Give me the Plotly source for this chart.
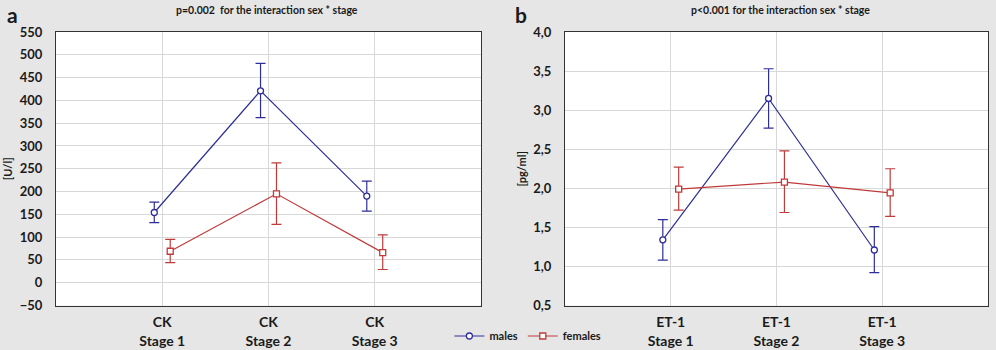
import plotly.graph_objects as go

stages = [1, 2, 3]
ck_ticktext = ["CK<br>Stage 1", "CK<br>Stage 2", "CK<br>Stage 3"]
et_ticktext = ["ET-1<br>Stage 1", "ET-1<br>Stage 2", "ET-1<br>Stage 3"]

ck_males = [154, 421, 190]
ck_males_hi = [177, 481, 223]
ck_males_lo = [132, 362, 157]
ck_females = [69, 195, 66]
ck_females_hi = [95, 263, 105]
ck_females_lo = [44, 128, 29]

et_males = [1.34, 3.15, 1.21]
et_males_hi = [1.60, 3.53, 1.51]
et_males_lo = [1.08, 2.77, 0.92]
et_females = [1.99, 2.08, 1.94]
et_females_hi = [2.27, 2.48, 2.25]
et_females_lo = [1.72, 1.69, 1.64]

BLUE = "#2e2e9a"
RED = "#c03a3a"
OFF = 0.075

def err(v, hi, lo, color):
    return dict(type="data", symmetric=False,
                array=[h - x for h, x in zip(hi, v)],
                arrayminus=[x - l for x, l in zip(v, lo)],
                color=color, thickness=1.2, width=5)

fig = go.Figure()

def add(xa, ya, vals, hi, lo, color, symbol, name, show):
    fig.add_trace(go.Scatter(
        x=[s + (-OFF if name == "males" else OFF) for s in stages], y=vals,
        mode="lines+markers", name=name, showlegend=show,
        xaxis=xa, yaxis=ya,
        line=dict(color=color, width=1.2),
        marker=dict(symbol=symbol, size=6, color="white", line=dict(color=color, width=1.3)),
        error_y=err(vals, hi, lo, color)))

add("x", "y", ck_males, ck_males_hi, ck_males_lo, BLUE, "circle", "males", True)
add("x", "y", ck_females, ck_females_hi, ck_females_lo, RED, "square", "females", True)
add("x2", "y2", et_males, et_males_hi, et_males_lo, BLUE, "circle", "males", False)
add("x2", "y2", et_females, et_females_hi, et_females_lo, RED, "square", "females", False)

FONT = "Lato"
tickfont = dict(family=FONT, size=13, color="#1a1a1a", weight="bold")
ydom = [1 - 305.5 / 350, 1 - 32 / 350]

common_x = dict(range=[0, 4], tickvals=stages, showgrid=True, gridcolor="#d8d8d8",
                showline=True, linecolor="#333333", linewidth=1.2, mirror=True,
                zeroline=False, tickfont=dict(tickfont, size=14), ticks="", ticklabelstandoff=4,
                automargin=False)
common_y = dict(showgrid=True, gridcolor="#d8d8d8", showline=True, linecolor="#333333",
                linewidth=1.2, mirror=True, zeroline=False, tickfont=tickfont, ticks="",
                ticklabelstandoff=10, domain=ydom, automargin=False)

def ann(text, x, y, size):
    return dict(text=text, x=x / 996, y=1 - y / 350, xref="paper", yref="paper",
                xanchor="center", yanchor="middle", showarrow=False,
                font=dict(family=FONT, size=size, weight="bold"))

fig.update_layout(
    width=996, height=350,
    margin=dict(l=0, r=0, t=0, b=0, autoexpand=False),
    paper_bgcolor="#e6e6e6", plot_bgcolor="white",
    separators=", ",
    font=dict(family=FONT, color="#1a1a1a"),
    xaxis=dict(domain=[56 / 996, 481 / 996], ticktext=ck_ticktext, anchor="y", **common_x),
    yaxis=dict(range=[-50, 550], dtick=50, anchor="x",
               title=dict(text="[U/l]", font=dict(family=FONT, size=11, weight="bold"), standoff=4),
               **common_y),
    xaxis2=dict(domain=[565 / 996, 988 / 996], ticktext=et_ticktext, anchor="y2", **common_x),
    yaxis2=dict(range=[0.5, 4.0], dtick=0.5, tickformat=".1f", anchor="x2",
                title=dict(text="[pg/ml]", font=dict(family=FONT, size=11, weight="bold"), standoff=4),
                **common_y),
    legend=dict(orientation="h", x=0.53, xanchor="center", y=14 / 350, yanchor="middle",
                bgcolor="rgba(0,0,0,0)", font=dict(family=FONT, size=11, weight="bold"),
                itemwidth=30),
    annotations=[
        ann("p=0.002  for the interaction sex * stage", 267, 10, 10.5),
        ann("p<0.001 for the interaction sex * stage", 780, 10, 10.5),
        ann("a", 12, 15, 21),
        ann("b", 521, 15, 21),
    ],
)

fig.write_html("out.html", post_script="document.body.style.margin='0';",
               config={"displayModeBar": False})
